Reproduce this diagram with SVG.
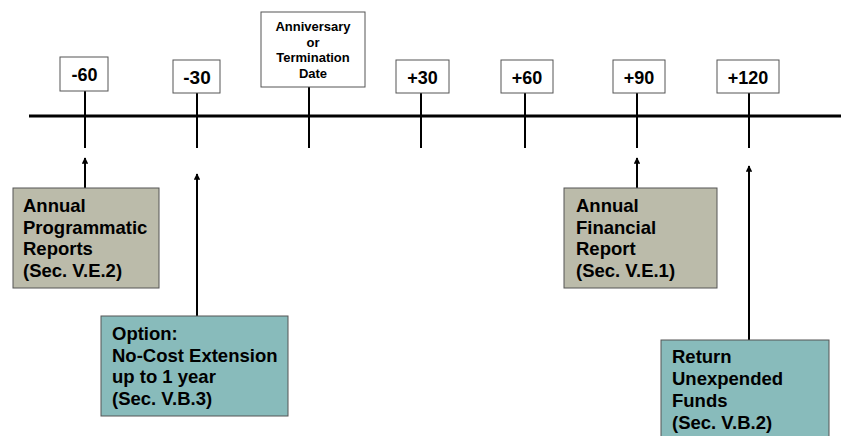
<svg xmlns="http://www.w3.org/2000/svg" width="841" height="436" viewBox="0 0 841 436">
<defs>
<style>
text{font-family:"Liberation Sans",Arial,sans-serif;font-weight:bold;fill:#000}
.lbl{font-size:18px;text-anchor:middle}
.small{font-size:13px;text-anchor:middle}
.body{font-size:18.5px}
.box{fill:#fff;stroke:#555;stroke-width:1}
.tan{fill:#BBBBAA;stroke:#555;stroke-width:1}
.teal{fill:#88BBBB;stroke:#555;stroke-width:1}
.tick{stroke:#000;stroke-width:2}
.arr{stroke:#000;stroke-width:2;marker-end:url(#ah)}
</style>
<marker id="ah" viewBox="0 0 10 10" refX="9" refY="5" markerWidth="3.2" markerHeight="3.2" orient="auto" markerUnits="strokeWidth">
<path d="M0,0 L10,5 L0,10 z" fill="#000"/>
</marker>
</defs>
<rect width="841" height="436" fill="#fff"/>
<g id="connectors">
<line x1="29" y1="116" x2="841" y2="116" stroke="#000" stroke-width="3"/>
<line class="tick" x1="85" y1="91" x2="85" y2="148"/>
<line class="tick" x1="197" y1="93" x2="197" y2="148"/>
<line class="tick" x1="309" y1="87" x2="309" y2="148"/>
<line class="tick" x1="421" y1="93" x2="421" y2="148"/>
<line class="tick" x1="525" y1="93" x2="525" y2="148"/>
<line class="tick" x1="637" y1="93" x2="637" y2="148"/>
<line class="tick" x1="749" y1="93" x2="749" y2="148"/>
<line class="arr" x1="85" y1="188" x2="85" y2="158"/>
<line class="arr" x1="197" y1="316" x2="197" y2="174"/>
<line class="arr" x1="637" y1="188" x2="637" y2="158"/>
<line class="arr" x1="749" y1="340" x2="749" y2="166"/>
</g>
<g id="m60"><rect class="box" x="60" y="57" width="48" height="34"/><text class="lbl" x="84.5" y="81">-60</text></g>
<g id="m30"><rect class="box" x="173" y="60" width="47" height="33"/><text class="lbl" x="197" y="84" style="font-size:19px">-30</text></g>
<g id="anniv"><rect class="box" x="261" y="12" width="104" height="75"/>
<text class="small" x="313" y="31">Anniversary</text>
<text class="small" x="313" y="46.5">or</text>
<text class="small" x="313" y="62">Termination</text>
<text class="small" x="313" y="77.5">Date</text></g>
<g id="p30"><rect class="box" x="396" y="60" width="53" height="33"/><text class="lbl" x="422.5" y="84">+30</text></g>
<g id="p60"><rect class="box" x="501" y="60" width="52" height="33"/><text class="lbl" x="527" y="84">+60</text></g>
<g id="p90"><rect class="box" x="613" y="60" width="52" height="33"/><text class="lbl" x="639" y="84">+90</text></g>
<g id="p120"><rect class="box" x="717" y="60" width="62" height="33"/><text class="lbl" x="748" y="84">+120</text></g>
<g id="programmatic"><rect class="tan" x="13" y="188" width="146" height="100"/>
<text class="body" x="23" y="212">Annual</text>
<text class="body" x="23" y="233.5">Programmatic</text>
<text class="body" x="23" y="255">Reports</text>
<text class="body" x="23" y="276.5">(Sec. V.E.2)</text></g>
<g id="option"><rect class="teal" x="101" y="316" width="187" height="100"/>
<text class="body" x="112" y="340">Option:</text>
<text class="body" x="112" y="361.5">No-Cost Extension</text>
<text class="body" x="112" y="383">up to 1 year</text>
<text class="body" x="112" y="404.5">(Sec. V.B.3)</text></g>
<g id="financial"><rect class="tan" x="564" y="188" width="153" height="100"/>
<text class="body" x="576" y="212">Annual</text>
<text class="body" x="576" y="233.5">Financial</text>
<text class="body" x="576" y="255">Report</text>
<text class="body" x="576" y="276.5">(Sec. V.E.1)</text></g>
<g id="return"><rect class="teal" x="661" y="340" width="168" height="100"/>
<text class="body" x="672" y="363">Return</text>
<text class="body" x="672" y="385">Unexpended</text>
<text class="body" x="672" y="407">Funds</text>
<text class="body" x="672" y="429">(Sec. V.B.2)</text></g>
</svg>
